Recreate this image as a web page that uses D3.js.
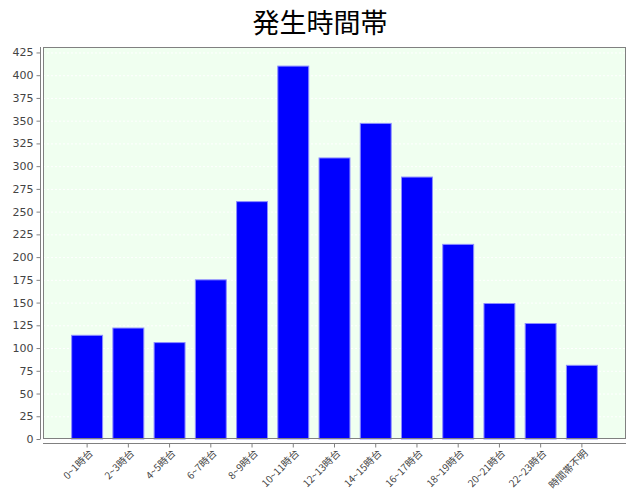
<!DOCTYPE html>
<html><head><meta charset="utf-8">
<script src="https://cdn.jsdelivr.net/npm/d3@7"></script>
<style>body{margin:0;background:#fff;}</style>
</head><body>
<svg id="c" width="640" height="500"></svg>
<script>
const title = "発生時間帯";
const categories = ["0~1時台","2~3時台","4~5時台","6~7時台","8~9時台","10~11時台","12~13時台","14~15時台","16~17時台","18~19時台","20~21時台","22~23時台","時間帯不明"];
const values = [114,122,106,175,261,410,309,347,288,214,149,127,81];
const yTicks = [0,25,50,75,100,125,150,175,200,225,250,275,300,325,350,375,400,425];

const svg = d3.select("#c");
const plot = {left:43, right:626, top:47, bottom:439};
const x = d3.scaleBand().domain(categories).range([plot.left+23.5, plot.right-23.5]).paddingInner(0.25).paddingOuter(0.125);
const y = d3.scaleLinear().domain([0,431]).range([plot.bottom, plot.top]);

svg.append("text").attr("x",320).attr("y",33).attr("text-anchor","middle")
  .attr("font-family","'Noto Sans CJK JP', sans-serif").attr("font-size",27).attr("fill","#000").text(title);

svg.append("rect").attr("x",plot.left).attr("y",plot.top).attr("width",plot.right-plot.left).attr("height",plot.bottom-plot.top)
  .attr("fill","#f0fff0");

svg.append("g").selectAll("line").data(yTicks).join("line")
  .attr("x1",plot.left).attr("x2",plot.right).attr("y1",d=>y(d)+0.5).attr("y2",d=>y(d)+0.5)
  .attr("stroke","#ffffff").attr("stroke-dasharray","2,2").attr("stroke-width",1);

svg.append("g").selectAll("rect").data(values).join("rect")
  .attr("x",(d,i)=>x(categories[i])).attr("width",x.bandwidth())
  .attr("y",d=>y(d)).attr("height",d=>plot.bottom-y(d))
  .attr("fill","#0000ff").attr("stroke","#8c8cff").attr("stroke-width",1);

svg.append("rect").attr("x",plot.left+0.5).attr("y",plot.top+0.5).attr("width",plot.right-plot.left-1).attr("height",plot.bottom-plot.top-1)
  .attr("fill","none").attr("stroke","#808080");

// y axis
const yAxis = d3.axisLeft(y).tickValues(yTicks).tickSize(4).tickPadding(3).tickSizeOuter(0);
const gy = svg.append("g").attr("transform","translate(40.5,0)").call(yAxis);
gy.select(".domain").attr("stroke","#808080").attr("d",`M0,${plot.top}V${plot.bottom}`);
gy.selectAll(".tick line").attr("stroke","#808080");
gy.selectAll("text").attr("font-family","'DejaVu Sans', sans-serif").attr("font-size",11).attr("fill","#444");

// x axis
const xAxis = d3.axisBottom(x).tickSize(4).tickSizeOuter(0).tickPadding(3);
const gx = svg.append("g").attr("transform","translate(0,443.5)").call(xAxis);
gx.select(".domain").attr("stroke","#808080").attr("d",`M${plot.left},0H${plot.right}`);
gx.selectAll(".tick line").attr("stroke","#808080");
gx.selectAll("text").attr("font-family","'Noto Sans CJK JP', sans-serif").attr("font-size",10).attr("fill","#444")
  .attr("text-anchor","end").attr("dy","0.35em")
  .attr("transform","translate(4,8) rotate(-45)").attr("y",0).attr("x",0);
</script>
</body></html>
